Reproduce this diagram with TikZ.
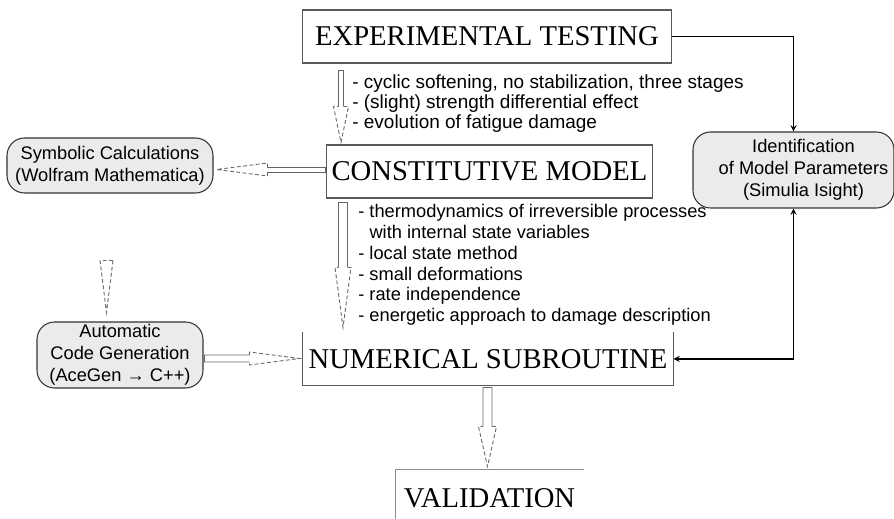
\documentclass[tikz,border=0pt]{standalone}
\usepackage{fontspec}
\setmainfont{Liberation Serif}
\setsansfont{Liberation Sans}
\usetikzlibrary{calc}

\newcommand{\hollowarrow}[5]{%
  \coordinate (ha-tail) at (#1);
  \coordinate (ha-tip) at (#2);
  \coordinate (ha-base) at ($(ha-tip)!#5!(ha-tail)$);
  \draw[hollow] ($(ha-base)!#3!90:(ha-tip)$) -- ($(ha-tail)!#3!90:(ha-tip)$)
    -- ($(ha-tail)!#3!-90:(ha-tip)$) -- ($(ha-base)!#3!-90:(ha-tip)$);
  \draw[hollowdash] ($(ha-base)!#3!90:(ha-tip)$) -- ($(ha-base)!#4!90:(ha-tip)$)
    -- (ha-tip) -- ($(ha-base)!#4!-90:(ha-tip)$) -- ($(ha-base)!#3!-90:(ha-tip)$);
}

\begin{document}
\begin{tikzpicture}[x=0.02cm,y=-0.02cm,
  stage/.style={rectangle,draw=black!65,line width=0.6pt,inner sep=0pt,font=\fontsize{16.3}{19}\selectfont},
  tool/.style={rectangle,rounded corners=0.35cm,draw=black!80,line width=0.6pt,fill=black!8,align=center,inner sep=0pt,font=\sffamily\fontsize{10.4}{12.4}\selectfont},
  notes/.style={anchor=west,align=left,inner sep=0pt,font=\sffamily\fontsize{10.4}{11.4}\selectfont},
  link/.style={line width=0.6pt,-stealth},
  hollow/.style={draw=black!60,line width=0.5pt},
  hollowdash/.style={hollow,dash pattern=on 2.2pt off 1.4pt}]
    \useasboundingbox (0,0) rectangle (894,519);

    \node[stage,minimum width=7.4cm,minimum height=1.06cm] (et) at (487,36.5) {EXPERIMENTAL TESTING};
    \node[stage,minimum width=6.54cm,minimum height=1.06cm] (cm) at (489.5,171.5) {CONSTITUTIVE MODEL};
    \node[stage,draw=none,minimum width=7.4cm,minimum height=1.04cm] (ns) at (488,359) {NUMERICAL SUBROUTINE};
    \node[stage,draw=none,minimum width=3.74cm,minimum height=1.12cm] (val) at (489.5,498) {VALIDATION};
    \draw[black!65,line width=0.6pt] (ns.north west) -- (ns.south west) -- (ns.south east) -- (ns.north east);
    \draw[black!45,line width=0.5pt] (val.south west) -- (val.north west) -- (val.north east);

    \node[tool,minimum width=4.12cm,minimum height=1.1cm] (sym) at (110,165.5) {Symbolic Calculations\\(Wolfram Mathematica)};
    \node[tool,minimum width=3.32cm,minimum height=1.32cm] (acg) at (120,355) {Automatic\\Code Generation\\(AceGen → C++)};
    \node[tool,minimum width=4.02cm,minimum height=1.52cm] (ident) at (793.5,170) {\hspace*{0.4cm}\begin{tabular}{@{}c@{}}Identification\\of Model Parameters\\(Simulia Isight)\end{tabular}};

    \node[notes,font=\sffamily\fontsize{10.8}{11.4}\selectfont] (expnotes) at (352,104) {- cyclic softening, no stabilization, three stages\\- (slight) strength differential effect\\- evolution of fatigue damage};
    \node[notes,font=\sffamily\fontsize{10.4}{11.84}\selectfont] (modnotes) at (358,265) {- thermodynamics of irreversible processes\\\hphantom{- }with internal state variables\\- local state method\\- small deformations\\- rate independence\\- energetic approach to damage description};

    \draw[link] (et.east) -| (ident.north);
    \draw[link,stealth-stealth] (ns.east) -| (ident.south);

    \hollowarrow{$(et.south west)+(39.5,7)$}{$(cm.north west)+(15.5,-2)$}{0.05cm}{0.15cm}{0.72cm}
    \hollowarrow{$(cm.south west)+(17.5,4)$}{$(ns.north west)+(40.5,-5)$}{0.09cm}{0.16cm}{1.2cm}
    \hollowarrow{$(cm.west)+(0,-2)$}{$(sym.east)+(3,4)$}{0.05cm}{0.13cm}{1.02cm}
    \hollowarrow{$(acg.east)+(1,3.5)$}{$(ns.west)+(-3,-0.5)$}{0.07cm}{0.13cm}{1.0cm}
    \hollowarrow{$(ns.south)+(-0.5,2)$}{$(val.north)+(-2,-3)$}{0.09cm}{0.18cm}{0.8cm}

    \coordinate (symgap) at ($(sym.south)+(-3.5,67)$);
    \coordinate (acgtip) at ($(acg.north)+(-13.5,-9)$);
    \draw[hollowdash] ($(symgap)!0.13cm!90:(acgtip)$) -- (acgtip) -- ($(symgap)!0.13cm!-90:(acgtip)$) -- cycle;
\end{tikzpicture}
\end{document}
